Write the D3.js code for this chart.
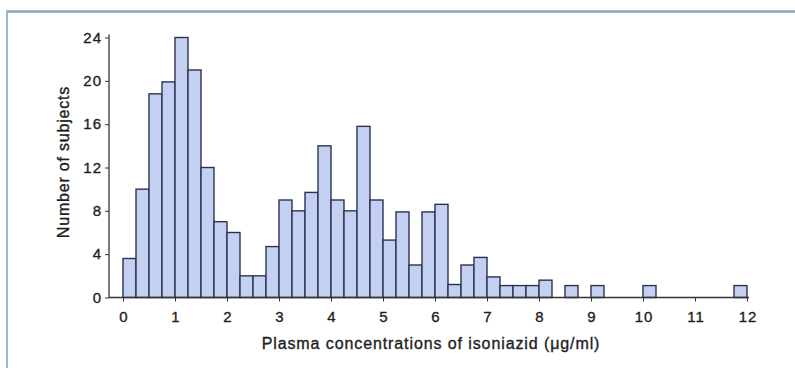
<!DOCTYPE html>
<html><head><meta charset="utf-8">
<script src="https://cdn.jsdelivr.net/npm/d3@7"></script>
<style>
body{margin:0;background:#fff;}
svg{display:block;}
text{font-family:"Liberation Sans",Arial,sans-serif;}
</style></head>
<body>
<svg id="c" width="795" height="368"></svg>
<script>
const binWidth = 0.25;
const binStarts = d3.range(0, 12, 0.25);
const counts = [3.6, 10, 18.8, 19.9, 24, 21, 12, 7, 6, 2, 2, 4.7,
  9, 8, 9.7, 14, 9, 8, 15.8, 9, 5.3, 7.9, 3, 7.9,
  8.6, 1.2, 3, 3.7, 1.9, 1.1, 1.1, 1.1, 1.6, 0, 1.1, 0,
  1.1, 0, 0, 0, 1.1, 0, 0, 0, 0, 0, 0, 1.1];
const xTicks = [0,1,2,3,4,5,6,7,8,9,10,11,12];
const yTicks = [0,4,8,12,16,20,24];
const xTitle = "Plasma concentrations of isoniazid (\u03bcg/ml)";
const yTitle = "Number of subjects";

const svg = d3.select("#c");
// frame
svg.append("rect").attr("x",0).attr("y",0).attr("width",795).attr("height",368).attr("fill","#fff");
svg.append("line").attr("x1",6).attr("x2",795).attr("y1",11.5).attr("y2",11.5).attr("stroke","#8ea3b8").attr("stroke-width",2.5);
svg.append("line").attr("x1",7).attr("x2",7).attr("y1",11).attr("y2",368).attr("stroke","#9fb3e0").attr("stroke-width",2);

const x = d3.scaleLinear().domain([0,12]).range([123,747]);
const y = d3.scaleLinear().domain([0,24]).range([297.5,37.5]);
const axisColor = "#333";
const txt = "#1e1e1e";

// bars
svg.append("g").selectAll("rect").data(binStarts.map((s,i)=>({s, v:counts[i]})).filter(d=>d.v>0))
  .join("rect")
  .attr("x", d=>x(d.s))
  .attr("width", d=>x(d.s+binWidth)-x(d.s))
  .attr("y", d=>y(d.v))
  .attr("height", d=>y(0)-y(d.v))
  .attr("fill","#c4d0f2")
  .attr("stroke","#2b3350")
  .attr("stroke-width",1.4);

function styleText(sel, size, ls){
  sel.attr("font-size",size).attr("letter-spacing",ls).attr("fill",txt)
    .attr("stroke",txt).attr("stroke-width",0.35)
    .attr("font-family","Liberation Sans, Arial, sans-serif");
}

// x axis
const gx = svg.append("g").attr("transform",`translate(0,${y(0)})`)
  .call(d3.axisBottom(x).tickValues(xTicks).tickSize(4).tickPadding(10).tickFormat(d3.format("d")));
gx.select(".domain").attr("d",`M109,0H749`).attr("stroke",axisColor).attr("stroke-width",1.3);
gx.selectAll(".tick line").attr("stroke",axisColor);
styleText(gx.selectAll(".tick text"), 15, 1);
gx.selectAll(".tick text").attr("dx",0.5);

// y axis
const gy = svg.append("g").attr("transform",`translate(109,0)`)
  .call(d3.axisLeft(y).tickValues(yTicks).tickSize(4).tickPadding(3).tickFormat(d3.format("d")));
gy.select(".domain").attr("d",`M0,${y(24)-3}V${y(0)}`).attr("stroke",axisColor).attr("stroke-width",1.3);
gy.selectAll(".tick line").attr("stroke",axisColor);
styleText(gy.selectAll(".tick text"), 15, 1);

// titles
styleText(svg.append("text").attr("x",431).attr("y",349).attr("text-anchor","middle").text(xTitle), 16, 0.9);
styleText(svg.append("text").attr("transform","translate(69,162) rotate(-90)").attr("text-anchor","middle").text(yTitle), 16, 0.8);
</script>
</body></html>
